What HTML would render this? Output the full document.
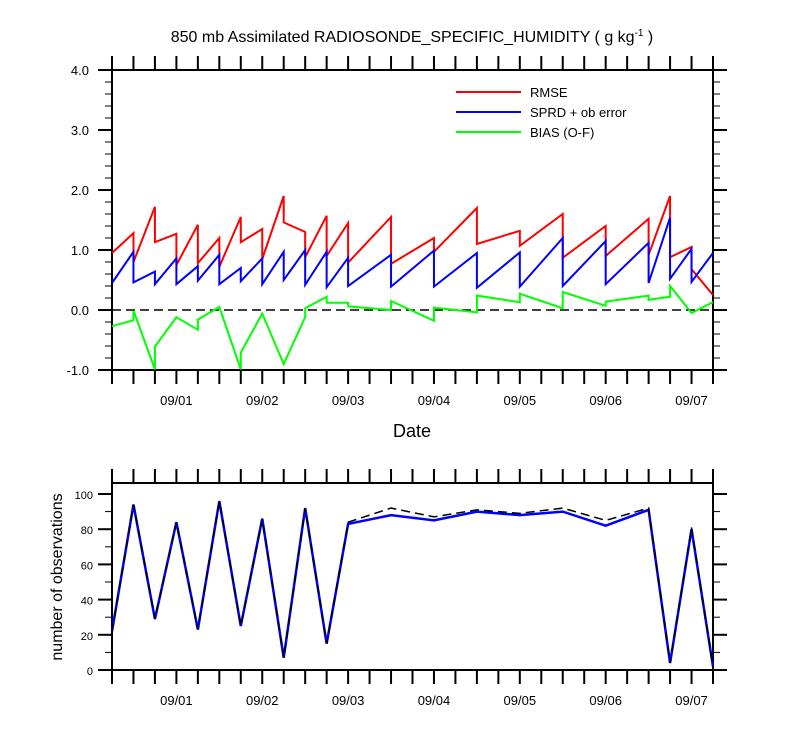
<!DOCTYPE html>
<html><head><meta charset="utf-8"><style>
body{margin:0;background:#fff}
svg text{font-family:"Liberation Sans",Arial,sans-serif;fill:#000}
</style></head><body>
<svg id="c" width="800" height="750" xmlns="http://www.w3.org/2000/svg">
<text x="412" y="42" font-size="16" text-anchor="middle">850 mb Assimilated RADIOSONDE_SPECIFIC_HUMIDITY ( g kg<tspan dy="-6" font-size="10">-1</tspan><tspan dy="6"> )</tspan></text>
<g id="topPanel"></g>
<g id="botPanel"></g>
<text x="412" y="437" font-size="18" text-anchor="middle">Date</text>
<text transform="translate(62,577) rotate(-90)" font-size="16" text-anchor="middle">number of observations</text>
<g>
<line x1="456" y1="92" x2="521" y2="92" stroke="#f00" stroke-width="2"/>
<text x="530" y="97" font-size="13">RMSE</text>
<line x1="456" y1="112" x2="521" y2="112" stroke="#00f" stroke-width="2"/>
<text x="530" y="117" font-size="13">SPRD + ob error</text>
<line x1="456" y1="132" x2="521" y2="132" stroke="#0f0" stroke-width="2"/>
<text x="530" y="137" font-size="13">BIAS (O-F)</text>
</g>
</svg>
<script>
// hours since 08/31 06Z
const dateLabels=["09/01","09/02","09/03","09/04","09/05","09/06","09/07"];
const dateHours=[18,42,66,90,114,138,162];
const yTicksTop=[-1,0,1,2,3,4];
const yTicksBot=[0,20,40,60,80,100];
const rmseH=[0,6,6,12,12,18,18,24,24,30,30,36,36,42,42,48,48,54,54,60,60,66,66,78,78,90,90,102,102,114,114,126,126,138,138,150,150,156,156,162,162,168];
const rmseV=[0.95,1.28,0.8,1.72,1.13,1.27,0.75,1.42,0.78,1.2,0.72,1.55,1.13,1.35,0.85,1.9,1.46,1.3,0.88,1.57,0.9,1.45,0.79,1.55,0.77,1.2,0.97,1.7,1.1,1.32,1.07,1.6,0.87,1.4,0.9,1.52,0.92,1.9,0.88,1.05,0.68,0.25];
const sprdH=[0,6,6,12,12,18,18,24,24,30,30,36,36,42,42,48,48,54,54,60,60,66,66,78,78,90,90,102,102,114,114,126,126,138,138,150,150,156,156,162,162,168];
const sprdV=[0.45,0.97,0.46,0.64,0.43,0.86,0.43,0.73,0.49,0.92,0.43,0.7,0.48,0.86,0.43,0.97,0.5,1.0,0.42,0.97,0.38,0.87,0.4,0.92,0.39,0.99,0.39,0.95,0.37,0.96,0.39,1.2,0.4,1.15,0.43,1.12,0.45,1.54,0.52,1.02,0.47,0.95];
const biasH=[0,6,6,12,12,18,24,24,30,36,36,42,48,54,54,60,60,66,66,78,78,90,90,102,102,114,114,126,126,138,138,150,150,156,156,162,168];
const biasV=[-0.27,-0.17,-0.01,-0.99,-0.61,-0.12,-0.33,-0.16,0.05,-0.99,-0.71,-0.06,-0.9,-0.12,0.03,0.22,0.12,0.12,0.06,0.0,0.15,-0.18,0.04,-0.04,0.24,0.13,0.27,0.03,0.3,0.07,0.14,0.24,0.17,0.22,0.4,-0.05,0.13];
const obsH=[0,6,12,18,24,30,36,42,48,54,60,66,78,90,102,114,126,138,150,156,162,168];
const obsUsed=[22,94,29,84,23,96,25,86,7,92,15,83,88,85,90,88,90,82,91,4,80,2];
const obsTotal=[22,94,29,84,23,96,25,86,7,92,15,84,92,87,91,89,92,85,92,4,81,2];

const NS="http://www.w3.org/2000/svg";
const X0=112,X1=713;
const xs=h=>X0+(X1-X0)*h/168;
const yTop=v=>310-60*v;
const yBot=v=>670-1.76*v;
function mk(t,a,p){const e=document.createElementNS(NS,t);for(const k in a)e.setAttribute(k,a[k]);p.appendChild(e);return e;}
const gTop=document.getElementById('topPanel'),gBot=document.getElementById('botPanel');
function frame(g,y0,y1,ticksV,yf,fmt,minorStep,vmin,vmax,fs,labX){
  const r=mk('rect',{x:X0,y:y0,width:X1-X0,height:y1-y0,fill:'none',stroke:'#000','stroke-width':2},g);
  
  
  for(let h=0;h<=168;h+=6){
    mk('line',{x1:xs(h),x2:xs(h),y1:y0,y2:y0-14,stroke:'#000','stroke-width':2},g);
    mk('line',{x1:xs(h),x2:xs(h),y1:y1,y2:y1+14,stroke:'#000','stroke-width':2},g);
  }
  for(let v=vmin;v<=vmax+1e-9;v+=minorStep){
    mk('line',{x1:X0,x2:X0-7,y1:yf(v),y2:yf(v),stroke:'#000','stroke-width':1},g);
    mk('line',{x1:X1,x2:X1+7,y1:yf(v),y2:yf(v),stroke:'#000','stroke-width':1},g);
  }
  ticksV.forEach(v=>{
    mk('line',{x1:X0,x2:X0-14,y1:yf(v),y2:yf(v),stroke:'#000','stroke-width':2},g);
    mk('line',{x1:X1,x2:X1+14,y1:yf(v),y2:yf(v),stroke:'#000','stroke-width':2},g);
    const t=mk('text',{x:labX,y:yf(v)+5,'font-size':fs,'text-anchor':'end'},g);
    t.textContent=fmt(v);
    
    
  });
  dateLabels.forEach((d,i)=>{
    const t=mk('text',{x:xs(dateHours[i]),y:y1+35,'font-size':13,'text-anchor':'middle'},g);
    t.textContent=d;
    
    
  });
}
frame(gTop,70,370,yTicksTop,yTop,v=>v.toFixed(1),0.2,-1,4,13,89);
frame(gBot,483,670,yTicksBot,yBot,v=>String(v),10,0,100,11,93);
const zl=mk('line',{x1:X0,x2:X1,y1:yTop(0),y2:yTop(0),stroke:'#000','stroke-width':1.5,'stroke-dasharray':'9,5'},gTop);


function line(g,H,V,yf,col,w,dash,name){
  const p=H.map((h,i)=>xs(h)+','+yf(V[i])).join(' ');
  const a={points:p,fill:'none',stroke:col,'stroke-width':w,'stroke-linejoin':'miter'};
  if(dash)a['stroke-dasharray']=dash;
  const e=mk('polyline',a,g);
  
  
}
line(gTop,rmseH,rmseV,yTop,'#f00',2,null,'rmse-line');
line(gTop,sprdH,sprdV,yTop,'#00f',2,null,'sprd-line');
line(gTop,biasH,biasV,yTop,'#0f0',2,null,'bias-line');
line(gBot,obsH,obsUsed,yBot,'#00f',2.5,null,'obs-used-line');
line(gBot,obsH,obsTotal,yBot,'#000',1.5,'9,5','obs-total-line');
</script>
</body></html>
